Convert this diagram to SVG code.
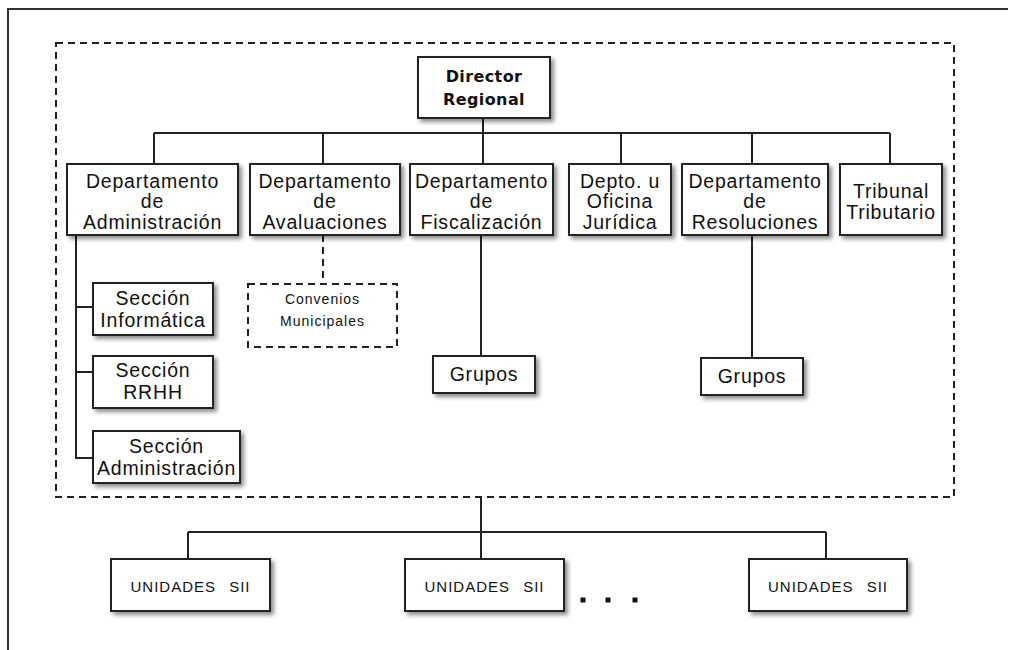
<svg xmlns="http://www.w3.org/2000/svg" width="1017" height="650" viewBox="0 0 1017 650">
<defs>
<filter id="sh" x="-10%" y="-10%" width="130%" height="140%">
<feDropShadow dx="3" dy="3" stdDeviation="2" flood-color="#000" flood-opacity="0.45"/>
</filter>
<style>
.box{fill:#fff;stroke:#222;stroke-width:2;filter:url(#sh)}
.dbox{fill:#fff;stroke:#222;stroke-width:2;stroke-dasharray:7 5}
.t{font-family:"Liberation Sans",Arial,sans-serif;font-size:19.5px;letter-spacing:0.8px;fill:#111;text-anchor:middle}
.tb{font-family:"DejaVu Sans","Liberation Sans",sans-serif;font-weight:bold;font-size:16px;letter-spacing:0.4px;fill:#111;text-anchor:middle}
.ts{font-family:"Liberation Sans",Arial,sans-serif;font-size:14px;letter-spacing:1px;fill:#111;text-anchor:middle}
.tu{font-family:"Liberation Sans",Arial,sans-serif;font-size:15px;letter-spacing:1px;word-spacing:8px;fill:#111;text-anchor:middle}
.c{fill:none;stroke:#222;stroke-width:2}
.cd{fill:none;stroke:#222;stroke-width:2;stroke-dasharray:7 5}
</style>
</defs>
<rect width="1017" height="650" fill="#fff"/>
<path d="M8 650 V9 H1008" fill="none" stroke="#333" stroke-width="2"/>
<rect id="region" x="56" y="43" width="898" height="454" fill="none" stroke="#222" stroke-width="2" stroke-dasharray="7 5"/>

<g id="connectors">
<path class="c" d="M483 118 V164 M154 133 H890 M154 133 V164 M323 133 V164 M621 133 V164 M752 133 V164 M890 133 V164"/>
<path class="c" d="M76 235 V458 H93 M76 307 H93 M76 372 H93"/>
<path class="cd" d="M323 235 V284"/>
<path class="c" d="M481 235 V356"/>
<path class="c" d="M752 235 V358"/>
<path class="c" d="M481 497 V559 M188 532 H826 M188 532 V559 M826 532 V559"/>
</g>

<g id="director"><rect class="box" x="418" y="57" width="132" height="61"/>
<text class="tb" x="484" y="82">Director</text><text class="tb" x="484" y="105">Regional</text></g>

<g id="dept-admin"><rect class="box" x="67" y="164" width="171" height="71"/>
<text class="t" x="152.5" y="188">Departamento</text><text class="t" x="152.5" y="208">de</text><text class="t" x="152.5" y="229">Administración</text></g>

<g id="dept-aval"><rect class="box" x="250" y="164" width="150" height="71"/>
<text class="t" x="325" y="188">Departamento</text><text class="t" x="325" y="208">de</text><text class="t" x="325" y="229">Avaluaciones</text></g>

<g id="dept-fisc"><rect class="box" x="410" y="164" width="143" height="71"/>
<text class="t" x="481.5" y="188">Departamento</text><text class="t" x="481.5" y="208">de</text><text class="t" x="481.5" y="229">Fiscalización</text></g>

<g id="dept-jur"><rect class="box" x="569" y="164" width="102" height="71"/>
<text class="t" x="620" y="188">Depto. u</text><text class="t" x="620" y="208">Oficina</text><text class="t" x="620" y="229">Jurídica</text></g>

<g id="dept-res"><rect class="box" x="682" y="164" width="146" height="71"/>
<text class="t" x="755" y="188">Departamento</text><text class="t" x="755" y="208">de</text><text class="t" x="755" y="229">Resoluciones</text></g>

<g id="tribunal"><rect class="box" x="840" y="164" width="102" height="71"/>
<text class="t" x="891" y="198">Tribunal</text><text class="t" x="891" y="219">Tributario</text></g>

<g id="sec-inf"><rect class="box" x="93" y="283" width="120" height="52"/>
<text class="t" x="153" y="305">Sección</text><text class="t" x="153" y="327">Informática</text></g>

<g id="sec-rrhh"><rect class="box" x="93" y="356" width="120" height="52"/>
<text class="t" x="153" y="377">Sección</text><text class="t" x="153" y="399">RRHH</text></g>

<g id="sec-adm"><rect class="box" x="93" y="431" width="147" height="52"/>
<text class="t" x="166.5" y="453">Sección</text><text class="t" x="166.5" y="475">Administración</text></g>

<g id="convenios"><rect class="dbox" x="248" y="284" width="149" height="63"/>
<text class="ts" x="322.5" y="304">Convenios</text><text class="ts" x="322.5" y="326">Municipales</text></g>

<g id="grupos-fisc"><rect class="box" x="433" y="356" width="102" height="37"/>
<text class="t" x="484" y="381">Grupos</text></g>

<g id="grupos-res"><rect class="box" x="701" y="358" width="102" height="37"/>
<text class="t" x="752" y="383">Grupos</text></g>

<g id="unidades-1"><rect class="box" x="111" y="559" width="159" height="52"/>
<text class="tu" x="190.5" y="592">UNIDADES SII</text></g>

<g id="unidades-2"><rect class="box" x="405" y="559" width="159" height="52"/>
<text class="tu" x="484.5" y="592">UNIDADES SII</text></g>

<g id="unidades-3"><rect class="box" x="749" y="559" width="158" height="52"/>
<text class="tu" x="828" y="592">UNIDADES SII</text></g>

<g id="ellipsis" fill="#111">
<rect x="580.5" y="597.5" width="5" height="5"/><rect x="605.5" y="597.5" width="5" height="5"/><rect x="632.5" y="597.5" width="5" height="5"/>
</g>
</svg>
